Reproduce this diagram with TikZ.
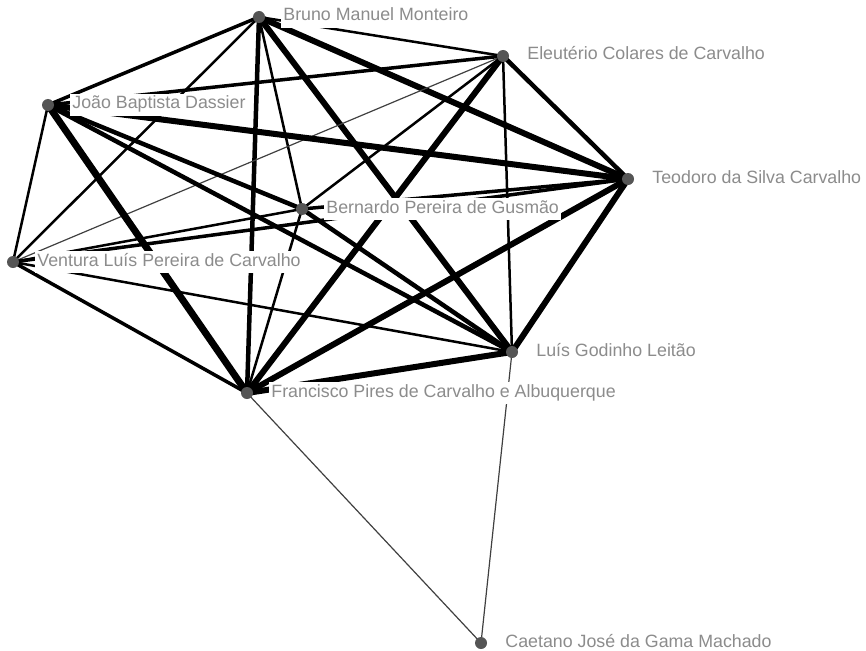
\documentclass[tikz,border=0pt]{standalone}
\usepackage{fontspec}
\setmainfont{Liberation Sans}
\usepackage{tikz}
\usetikzlibrary{positioning,backgrounds}
\definecolor{dotc}{HTML}{555555}
\definecolor{txtc}{HTML}{8C8C8C}
\tikzset{
  dot/.style={circle,fill=dotc,minimum size=12pt,inner sep=0pt},
  lbl/.style={fill=white,text=txtc,inner xsep=2pt,inner ysep=3pt,text height=12pt,text depth=4pt,font=\fontsize{17.8}{20}\selectfont},
  w1/.style={line width=1.2pt,black!75},
  w2/.style={line width=2.5pt},
  w3/.style={line width=3.5pt},
  w4/.style={line width=4.5pt},
  w5/.style={line width=6pt},
  w6/.style={line width=7pt}
}

\begin{document}
\begin{tikzpicture}[x=1pt,y=-1pt]
\useasboundingbox (0,0) rectangle (866,650);
\node[dot] (B) at (259,17) {}; \node[dot] (E) at (503,56) {};
\node[dot] (J) at (48,105) {}; \node[dot] (T) at (628,179) {};
\node[dot] (G) at (302,209) {}; \node[dot] (V) at (13,262) {};
\node[dot] (L) at (512,352) {}; \node[dot] (F) at (247,393) {};
\node[dot] (C) at (481,643) {};
\begin{scope}[on background layer]
\draw[w3] (B.center)--(J.center); \draw[w2] (B.center)--(E.center); \draw[w5] (B.center)--(T.center);
\draw[w2] (B.center)--(V.center); \draw[w4] (B.center)--(F.center); \draw[w2] (B.center)--(G.center);
\draw[w5] (B.center)--(L.center);
\draw[w3] (E.center)--(J.center); \draw[w1] (E.center)--(V.center); \draw[w2] (E.center)--(G.center);
\draw[w5] (E.center)--(F.center); \draw[w4] (E.center)--(T.center); \draw[w2] (E.center)--(L.center);
\draw[w5] (J.center)--(T.center); \draw[w4] (J.center)--(G.center); \draw[w4] (J.center)--(L.center);
\draw[w6] (J.center)--(F.center); \draw[w2] (J.center)--(V.center);
\draw[w3] (T.center)--(G.center); \draw[w3] (T.center)--(V.center); \draw[w5] (T.center)--(F.center);
\draw[w5] (T.center)--(L.center);
\draw[w2] (G.center)--(V.center); \draw[w2] (G.center)--(F.center); \draw[w4] (G.center)--(L.center);
\draw[w3] (V.center)--(F.center); \draw[w2] (V.center)--(L.center);
\draw[w5] (F.center)--(L.center);
\draw[w1] (F.center)--(C.center); \draw[w1] (L.center)--(C.center);
\end{scope}
\node[lbl,right=16pt of B] (lB) {Bruno Manuel Monteiro};
\node[lbl,right=16pt of E] (lE) {Eleutério Colares de Carvalho};
\node[lbl,right=16pt of J] (lJ) {João Baptista Dassier};
\node[lbl,right=16pt of T] (lT) {Teodoro da Silva Carvalho};
\node[lbl,right=16pt of G] (lG) {Bernardo Pereira de Gusmão};
\node[lbl,right=16pt of V] (lV) {Ventura Luís Pereira de Carvalho};
\node[lbl,right=16pt of L] (lL) {Luís Godinho Leitão};
\node[lbl,right=16pt of F] (lF) {Francisco Pires de Carvalho e Albuquerque};
\node[lbl,right=16pt of C] (lC) {Caetano José da Gama Machado};
\end{tikzpicture}
\end{document}
